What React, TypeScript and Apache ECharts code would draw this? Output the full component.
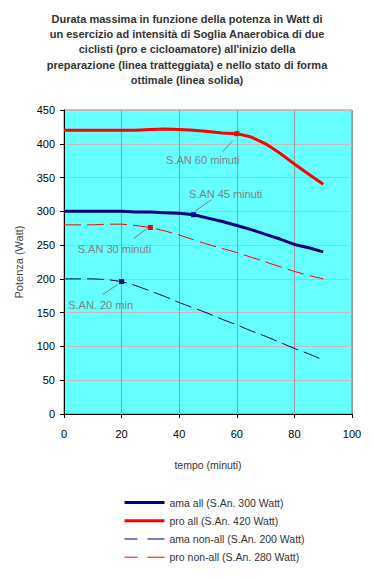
import React, { useEffect, useRef } from "react";
import * as echarts from "echarts";

const minutes = [0, 5, 10, 15, 20, 25, 30, 35, 40, 45, 50, 55, 60, 65, 70, 75, 80, 85, 90];
const amaAll = [300, 300, 300, 300, 300, 299, 299, 298, 297, 295, 290, 285, 279, 273, 266, 259, 251, 246, 240];
const proAll = [420, 420, 420, 420, 420, 420, 421, 422, 421, 420, 418, 416, 415, 410, 400, 386, 370, 355, 340];
const amaNonAll = [200, 200, 200, 199, 196, 190, 182, 174, 165, 157, 149, 140, 132, 123, 115, 106, 97, 89, 80];
const proNonAll = [280, 280, 280, 281, 281, 279, 276, 271, 265, 258, 251, 245, 239, 232, 225, 218, 211, 205, 200];

const seriesNames = [
  "ama all (S.An. 300 Watt)",
  "pro all (S.An. 420 Watt)",
  "ama non-all (S.An. 200 Watt)",
  "pro non-all (S.An. 280 Watt)",
];
const markerMinute = [45, 60, 20, 30];
const markerLabels = ["S.AN 45 minuti", "S.AN 60 minuti", "S.AN. 20 min", "S.AN 30 minuti"];
// pixel offsets from the marker: text centre, leader start, leader end
const textShift: [number, number][] = [
  [32, -21],
  [-34, 26],
  [-21, 23],
  [-36, 21],
];
const leaderFrom: [number, number][] = [
  [2, -4],
  [-14, 18],
  [-19, 13],
  [-17, 11],
];
const leaderTo: [number, number][] = [
  [18, -15],
  [-4, 7],
  [-4, 3],
  [-3, 1],
];
const colors = ["#000080", "#ff0000", "#000080", "#ff0000"];

const titleText =
  "Durata massima in funzione della potenza in Watt di\nun esercizio ad intensità di Soglia Anaerobica di due\nciclisti (pro e cicloamatore) all'inizio della\npreparazione (linea tratteggiata) e nello stato di forma\nottimale (linea solida)";

const FONT = "Liberation Sans, Arial, sans-serif";

export default function App() {
  const ref = useRef<HTMLDivElement>(null);
  useEffect(() => {
    const chart = echarts.init(ref.current!, undefined, { renderer: "svg" });
    const all = [amaAll, proAll, amaNonAll, proNonAll];
    const lineSeries = all.map((vals, si) => {
      const mIdx = minutes.indexOf(markerMinute[si]);
      const dashed = si >= 2;
      return {
        name: seriesNames[si],
        type: "line",
        symbol: "none",
        showSymbol: true,
        color: colors[si],
        lineStyle: {
          color: colors[si],
          width: dashed ? 1 : 3,
          type: dashed ? [17, 6] : "solid",
        },
        data: minutes.map((m, i) =>
          i === mIdx
            ? {
                value: [m, vals[i]],
                symbol: "rect",
                symbolSize: 5,
                itemStyle: { color: colors[si] },
              }
            : [m, vals[i]]
        ),
        z: dashed ? 2 : 3,
      };
    });
    const annotData = all.map((vals, si) => {
      const mIdx = minutes.indexOf(markerMinute[si]);
      return [minutes[mIdx], vals[mIdx], si];
    });
    const annotSeries = {
      type: "custom",
      name: "annotations",
      z: 5,
      silent: true,
      data: annotData,
      renderItem: (params: any, api: any) => {
        const pt = api.coord([api.value(0), api.value(1)]);
        const si = api.value(2);
        return {
          type: "group",
          children: [
            {
              type: "line",
              shape: {
                x1: pt[0] + leaderFrom[si][0],
                y1: pt[1] + leaderFrom[si][1],
                x2: pt[0] + leaderTo[si][0],
                y2: pt[1] + leaderTo[si][1],
              },
              style: { stroke: "#808080", lineWidth: 1 },
            },
            {
              type: "text",
              x: pt[0] + textShift[si][0],
              y: pt[1] + textShift[si][1],
              style: {
                text: markerLabels[si],
                fill: "#808080",
                font: `11px ${FONT}`,
                align: "center",
                verticalAlign: "middle",
              },
            },
          ],
        };
      },
    };
    chart.setOption({
      animation: false,
      backgroundColor: "#ffffff",
      title: {
        text: titleText,
        left: "center",
        top: 6,
        textStyle: {
          fontFamily: FONT,
          fontSize: 11,
          fontWeight: "bold",
          color: "#333333",
          lineHeight: 15.3,
        },
      },
      grid: {
        left: 64,
        right: 22,
        top: 110,
        bottom: 165,
        show: true,
        backgroundColor: "#66ffff",
        borderColor: "#808080",
        borderWidth: 1,
      },
      legend: {
        orient: "vertical",
        left: 118,
        top: 492,
        itemWidth: 40,
        itemHeight: 14,
        itemGap: 7,
        itemStyle: { opacity: 0 },
        data: seriesNames.map((n, si) => ({
          name: n,
          itemStyle: { opacity: 0 },
          lineStyle: {
            color: colors[si],
            width: si >= 2 ? 1 : 3,
            type: si >= 2 ? [13, 10, 17, 0] : "solid",
            opacity: 1,
          },
        })),
        textStyle: {
          fontFamily: FONT,
          fontSize: 10.5,
          color: "#333333",
        },
      },
      xAxis: {
        type: "value",
        min: 0,
        max: 100,
        interval: 20,
        name: "tempo (minuti)",
        nameLocation: "middle",
        nameGap: 45,
        nameTextStyle: { fontFamily: FONT, fontSize: 10.5, color: "#333333" },
        axisLine: { show: true, lineStyle: { color: "#000000", width: 1 } },
        axisTick: { show: true, length: 4, lineStyle: { color: "#000000" } },
        axisLabel: { fontFamily: FONT, fontSize: 11, color: "#000000", margin: 14 },
        splitLine: { show: true, lineStyle: { color: "#999999", width: 1 } },
      },
      yAxis: {
        type: "value",
        min: 0,
        max: 450,
        interval: 50,
        name: "Potenza (Watt)",
        nameLocation: "middle",
        nameGap: 40,
        nameTextStyle: { fontFamily: FONT, fontSize: 11, color: "#444444" },
        axisLine: { show: true, lineStyle: { color: "#000000", width: 1 } },
        axisTick: { show: true, length: 4, lineStyle: { color: "#000000" } },
        axisLabel: { fontFamily: FONT, fontSize: 11, color: "#000000", margin: 9 },
        splitLine: { show: true, lineStyle: { color: "#c8b8b8", width: 1 } },
      },
      series: [...lineSeries, annotSeries],
    });
    return () => chart.dispose();
  }, []);
  return (
    <div
      ref={ref}
      style={{ position: "fixed", left: 0, top: 0, width: 374, height: 579 }}
    />
  );
}
